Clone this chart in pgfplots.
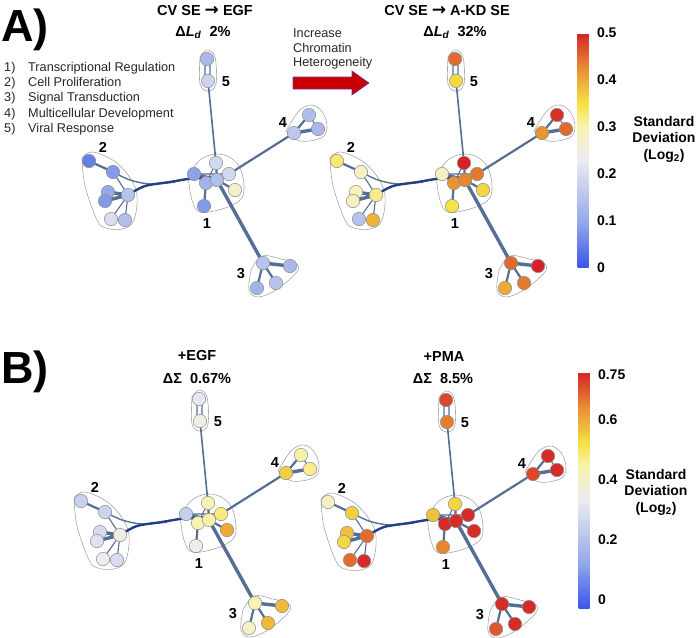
\documentclass[border=0pt]{standalone}
\usepackage{pgfplots}
\pgfplotsset{compat=1.18}
\usepackage{pgfplotstable}
\usepackage{fontspec}
\setmainfont{Liberation Sans}
\newfontfamily\dejavu{DejaVu Sans}

\definecolor{edgecol}{RGB}{85,110,150}
\definecolor{navy}{RGB}{35,65,130}
\definecolor{arrred}{RGB}{200,0,0}
\definecolor{arrline}{RGB}{110,50,160}

\pgfplotsset{colormap={sdmap}{rgb255(0pt)=(55,85,235) rgb255(20pt)=(150,170,232) rgb255(46pt)=(236,236,242) rgb255(60pt)=(248,243,175) rgb255(70pt)=(245,226,70) rgb255(85pt)=(232,142,50) rgb255(100pt)=(212,35,40)}}

% node layout (pixel coordinates of the upper-left network)
\pgfplotstableread{
x y a1 a2 b1 b2
207 59 0.13 0.45 0.32 0.72
208 81 0.18 0.36 0.36 0.66
309 115 0.14 0.49 0.45 0.75
318 129 0.13 0.45 0.47 0.75
294 133 0.16 0.42 0.55 0.72
89 161 0.05 0.33 0.25 0.42
113 172 0.08 0.28 0.26 0.55
108 192 0.10 0.29 0.28 0.57
105 201 0.08 0.28 0.30 0.54
128 195 0.15 0.32 0.36 0.68
111 219 0.20 0.15 0.34 0.68
125 220 0.14 0.39 0.28 0.75
216 163 0.19 0.50 0.44 0.54
194 174 0.09 0.28 0.24 0.57
229 174 0.19 0.44 0.48 0.75
206 183 0.12 0.42 0.44 0.75
217 180 0.14 0.43 0.45 0.75
235 190 0.27 0.36 0.60 0.75
204 206 0.08 0.35 0.34 0.65
263 263 0.15 0.45 0.44 0.75
290 266 0.13 0.50 0.58 0.75
276 283 0.15 0.44 0.58 0.75
257 288 0.12 0.40 0.41 0.70
}\nodes

\pgfplotstableread{
x y
113 172
128 195
nan nan
128 195
111 219
nan nan
128 195
125 220
nan nan
309 115
318 129
nan nan
216 163
206 183
nan nan
194 174
229 174
nan nan
205 60
205 80
nan nan
210 60
210 80
}\ethin

\pgfplotstableread{
x y
208 81
216 163
}\efive

\pgfplotstableread{
x y
89 161
113 172
nan nan
294 133
229 174
nan nan
294 133
309 115
nan nan
263 263
276 283
nan nan
263 263
257 288
nan nan
216 163
217 180
nan nan
229 174
217 180
nan nan
235 190
217 180
nan nan
204 206
206 183
nan nan
194 174
206 183
}\emed

\pgfplotstableread{
x y
263 263
217 180
nan nan
108 192
128 195
nan nan
105 201
128 195
nan nan
294 133
318 129
nan nan
263 263
290 266
nan nan
194 174
217 180
nan nan
206 183
217 180
}\ethick

\pgfplotstableread{
x y
113 172
130 180
150 184
175 182
}\cupper

\pgfplotstableread{
x y
128 195
145 186
170 182
195 178
215 178
}\clower

% hulls
\pgfplotstableread{
x y
200 57
207 50
215 57
216 84
208 91
200 84
200 57
}\hfive
\pgfplotstableread{
x y
286 131
299 111
312 105
323 113
327 128
321 138
300 141
286 131
}\hfour
\pgfplotstableread{
x y
82 158
93 152
118 164
136 190
134 220
122 229
106 228
97 220
85 186
82 158
}\htwo
\pgfplotstableread{
x y
188 176
200 160
216 154
231 158
241 170
244 190
239 201
222 209
200 212
192 200
188 176
}\hone
\pgfplotstableread{
x y
251 270
262 256
281 259
297 264
296 273
276 290
258 297
249 290
251 270
}\hthree

\pgfplotsset{
  netaxis/.style={scale only axis, width=697pt, height=638pt,
    xmin=0, xmax=697, ymin=0, ymax=638, y dir=reverse,
    hide axis, clip=false, anchor=south west, colormap name=sdmap},
  hullst/.style={draw=black!35, line width=0.6pt, smooth, tension=0.6},
}
\tikzset{
  legtxt/.style={anchor=base west, inner sep=0pt, font=\fontsize{12.7}{12.7}\selectfont, text=black!85},
  ttl/.style={anchor=base, inner sep=0pt, font=\bfseries\fontsize{14.5}{14.5}\selectfont},
  clab/.style={font=\bfseries\fontsize{14.5}{14.5}\selectfont},
}
\newcommand{\arr}{{\dejavu\bfseries\fontsize{17}{17}\selectfont →}}

\newcommand{\network}[1]{%
  \addplot[hullst] table {\hfive};
  \addplot[hullst] table {\hfour};
  \addplot[hullst] table {\htwo};
  \addplot[hullst] table {\hone};
  \addplot[hullst] table {\hthree};
  \addplot[edgecol, line width=1.1pt, unbounded coords=jump, line cap=round] table {\ethin};
  \addplot[edgecol, line width=1.6pt, line cap=round] table {\efive};
  \addplot[edgecol, line width=2.2pt, unbounded coords=jump, line cap=round] table {\emed};
  \addplot[edgecol, line width=3.4pt, unbounded coords=jump, line cap=round] table {\ethick};
  \addplot[edgecol, line width=1.4pt, smooth] table {\cupper};
  \addplot[navy, line width=2.4pt, smooth] table {\clower};
  \addplot[scatter, only marks, mark=*, mark size=6.7pt, scatter src=explicit,
    scatter/use mapped color={draw=black!45, fill=mapped color}, line width=0.5pt]
    table[x=x, y=y, meta=#1] {\nodes};
  \node[clab] at (axis cs:226,82) {5};
  \node[clab] at (axis cs:283,123) {4};
  \node[clab] at (axis cs:103,147) {2};
  \node[clab] at (axis cs:207,224) {1};
  \node[clab] at (axis cs:241,274) {3};
}

\begin{document}
\begin{tikzpicture}
% ---------- A, left ----------
\begin{axis}[netaxis, at={(0pt,0pt)}, point meta min=0, point meta max=0.5,
  colorbar,
  colorbar style={at={(parent axis.north west)}, anchor=north west,
    xshift=569pt, yshift=-33pt, scale only axis, width=11pt, height=235pt,
    y dir=normal, ytick={0,0.1,0.2,0.3,0.4,0.5},
    yticklabels={0,0.1,0.2,0.3,0.4,0.5},
    yticklabel style={font=\bfseries\fontsize{14}{14}\selectfont, xshift=5pt},
    major tick length=0pt, axis line style={draw=none}}]
\network{a1}
% panel letters
\node[anchor=base west, font=\bfseries\fontsize{45}{45}\selectfont, inner sep=0pt] at (axis cs:1,41) {A)};
\node[anchor=base west, font=\bfseries\fontsize{45}{45}\selectfont, inner sep=0pt] at (axis cs:1,383) {B)};
% legend list
\node[legtxt] at (axis cs:4,71.5) {1)};
\node[legtxt] at (axis cs:28,71.5) {Transcriptional Regulation};
\node[legtxt] at (axis cs:4,86.7) {2)};
\node[legtxt] at (axis cs:28,86.7) {Cell Proliferation};
\node[legtxt] at (axis cs:4,101.9) {3)};
\node[legtxt] at (axis cs:28,101.9) {Signal Transduction};
\node[legtxt] at (axis cs:4,117.1) {4)};
\node[legtxt] at (axis cs:28,117.1) {Multicellular Development};
\node[legtxt] at (axis cs:4,132.3) {5)};
\node[legtxt] at (axis cs:28,132.3) {Viral Response};
% titles
\node[ttl] at (axis cs:205,15) {CV SE \arr{} EGF};
\node[ttl] at (axis cs:203,36) {Δ\textit{L}\textsubscript{\textit{d}}\ \ 2\%};
\node[ttl] at (axis cs:447,15) {CV SE \arr{} A-KD SE};
\node[ttl] at (axis cs:455,36) {Δ\textit{L}\textsubscript{\textit{d}}\ \ 32\%};
\node[ttl] at (axis cs:197,360) {+EGF};
\node[ttl] at (axis cs:197,383) {ΔΣ\ \ 0.67\%};
\node[ttl] at (axis cs:444,361) {+PMA};
\node[ttl] at (axis cs:443,383) {ΔΣ\ \ 8.5\%};
% arrow text
\node[legtxt] at (axis cs:293,37.5) {Increase};
\node[legtxt] at (axis cs:293,52) {Chromatin};
\node[legtxt] at (axis cs:293,66.5) {Heterogeneity};
\fill[arrred, draw=arrline, line width=0.6pt] (axis cs:293,77) -- (axis cs:352,77) -- (axis cs:352,71) -- (axis cs:369,83) -- (axis cs:352,95) -- (axis cs:352,89) -- (axis cs:293,89) -- cycle;
% colorbar labels
\node[align=center, font=\bfseries\fontsize{14}{16.5}\selectfont] at (axis cs:664,139) {Standard\\Deviation\\(Log\textsubscript{2})};
\node[align=center, font=\bfseries\fontsize{14}{16.5}\selectfont] at (axis cs:656,492) {Standard\\Deviation\\(Log\textsubscript{2})};
\end{axis}
% ---------- A, right ----------
\begin{axis}[netaxis, at={(248pt,0pt)}, point meta min=0, point meta max=0.5]
\network{a2}
\end{axis}
% ---------- B, left ----------
\begin{axis}[netaxis, at={(-8pt,-340pt)}, point meta min=-0.03, point meta max=0.76,
  colorbar,
  colorbar style={at={(parent axis.north west)}, anchor=north west,
    xshift=578pt, yshift=-32pt, scale only axis, width=11pt, height=237pt,
    y dir=normal, ytick={0,0.2,0.4,0.6,0.75},
    yticklabels={0,0.2,0.4,0.6,0.75},
    yticklabel style={font=\bfseries\fontsize{14}{14}\selectfont, xshift=5pt},
    major tick length=0pt, axis line style={draw=none}}]
\network{b1}
\end{axis}
% ---------- B, right ----------
\begin{axis}[netaxis, at={(239pt,-341pt)}, point meta min=-0.03, point meta max=0.76]
\network{b2}
\end{axis}
\pgfresetboundingbox
\path[use as bounding box] (0,0) rectangle (697pt,638pt);
\end{tikzpicture}
\end{document}
